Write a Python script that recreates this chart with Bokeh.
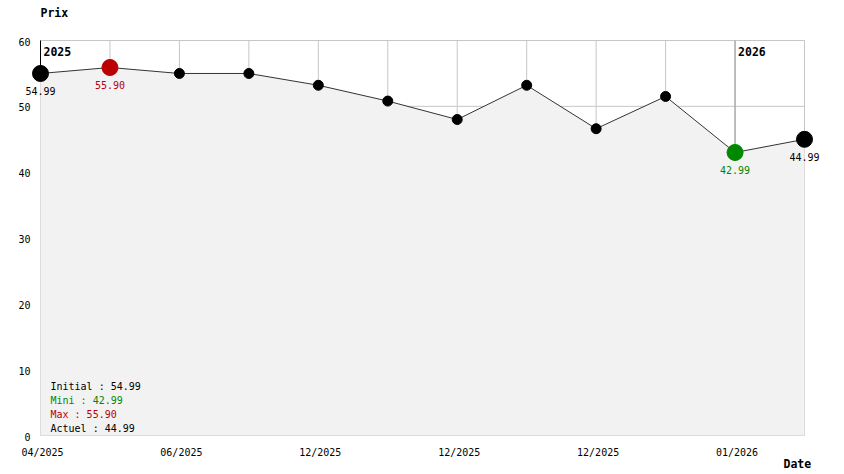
from bokeh.plotting import figure
from bokeh.models import Range1d, Label, LabelSet, ColumnDataSource
from bokeh.core.properties import value
from bokeh.embed import file_html
from bokeh.resources import INLINE

# ---- data ----
idx = list(range(12))
prices = [54.99, 55.90, 54.99, 54.99, 53.2, 50.8, 48.0, 53.2, 46.6, 51.5, 42.99, 44.99]
tick_idx = [0, 2, 4, 6, 8, 10]
tick_labels = ["04/2025", "06/2025", "12/2025", "12/2025", "12/2025", "01/2026"]
y_ticks = [0, 10, 20, 30, 40, 50, 60]
year_idx = [0, 10]
year_labels = ["2025", "2026"]
initial, mini, maxi, actuel = 54.99, 42.99, 55.90, 44.99
min_i, max_i = 10, 1

MONO = "DejaVu Sans Mono"
RED = "#bb0000"
GREEN = "#008800"
GRID = "#c6c6c6"

W, H = 844, 474
# plot area in canvas pixels
FL, FR, FT, FB = 40, 804, 40, 435
kx = (FR - FL) / (idx[-1] - idx[0])
ky = (FB - FT) / (y_ticks[-1] - y_ticks[0])

p = figure(width=W, height=H, output_backend="svg", toolbar_location=None,
           x_range=Range1d(idx[0] - FL / kx, idx[-1] + (W - FR) / kx),
           y_range=Range1d(y_ticks[0] - (H - FB) / ky, y_ticks[-1] + FT / ky),
           x_axis_location=None, y_axis_location=None,
           min_border=0)
p.outline_line_color = None
p.grid.visible = False
p.background_fill_color = "white"
p.border_fill_color = "white"

y0, y1 = y_ticks[0], y_ticks[-1]
x0, x1 = idx[0], idx[-1]

# grid
p.segment(x0=idx, y0=[y0] * len(idx), x1=idx, y1=[y1] * len(idx), line_color=GRID, line_width=1)
p.segment(x0=[x0] * len(y_ticks), y0=y_ticks, x1=[x1] * len(y_ticks), y1=y_ticks,
          line_color=GRID, line_width=1)

# area
src = ColumnDataSource(dict(x=idx, y=prices))
p.varea(x="x", y1=y0, y2="y", source=src, fill_color="#f2f2f2")

# year markers
p.segment(x0=[year_idx[0]], y0=[y1], x1=[year_idx[0]], y1=[prices[year_idx[0]]],
          line_color="black", line_width=1)
p.segment(x0=[year_idx[1]], y0=[y1], x1=[year_idx[1]], y1=[prices[year_idx[1]]],
          line_color="#999999", line_width=1)
for xi, yl in zip(year_idx, year_labels):
    p.add_layout(Label(x=xi, y=y1, text=yl, x_offset=3, y_offset=-11,
                       text_baseline="middle", text_font=MONO, text_font_size="11.5px",
                       text_font_style="bold", text_color="black"))

# line
p.line(x="x", y="y", source=src, line_color="#333333", line_width=1)

# markers
mid = [i for i in idx if i not in (0, 11, min_i, max_i)]
p.scatter(x=mid, y=[prices[i] for i in mid], size=10, fill_color="black", line_color="black")
p.scatter(x=[0, 11], y=[prices[0], prices[11]], size=16, fill_color="black", line_color="black")
p.scatter(x=[max_i], y=[prices[max_i]], size=16, fill_color=RED, line_color=RED)
p.scatter(x=[min_i], y=[prices[min_i]], size=16, fill_color=GREEN, line_color=GREEN)

# value labels
for xi, col in ((0, "black"), (max_i, RED), (min_i, GREEN), (11, "black")):
    p.add_layout(Label(x=xi, y=prices[xi], text=f"{prices[xi]:.2f}", y_offset=-18,
                       text_align="center", text_baseline="middle", text_font=MONO,
                       text_font_size="10px", text_color=col))

# y tick labels
ysrc = ColumnDataSource(dict(x=[x0] * len(y_ticks), y=y_ticks, t=[str(v) for v in y_ticks]))
p.add_layout(LabelSet(x="x", y="y", text="t", source=ysrc, x_offset=-10, y_offset=-1,
                      text_align="right", text_baseline="middle", text_font=value(MONO),
                      text_font_size=value("10px"), text_color="black"))

# x tick labels
xsrc = ColumnDataSource(dict(x=tick_idx, y=[y0] * len(tick_idx), t=tick_labels))
p.add_layout(LabelSet(x="x", y="y", text="t", source=xsrc, x_offset=2, y_offset=-17,
                      text_align="center", text_baseline="middle", text_font=value(MONO),
                      text_font_size=value("10px"), text_color="black"))

# axis titles
p.add_layout(Label(x=x0, y=y1, text="Prix", y_offset=28, text_baseline="middle",
                   text_font=MONO, text_font_size="11.5px", text_font_style="bold",
                   text_color="black"))
p.add_layout(Label(x=x1, y=y0, text="Date", x_offset=-21, y_offset=-28,
                   text_baseline="middle", text_font=MONO, text_font_size="11.5px",
                   text_font_style="bold", text_color="black"))

# legend texts
legend = [(f"Initial : {initial:.2f}", "black"), (f"Mini : {mini:.2f}", GREEN),
          (f"Max : {maxi:.2f}", RED), (f"Actuel : {actuel:.2f}", "black")]
for k, (t, col) in enumerate(legend):
    p.add_layout(Label(x=x0, y=y0, text=t, x_offset=10, y_offset=49 - 14 * k,
                       text_baseline="middle", text_font=MONO, text_font_size="10px",
                       text_color=col))

open("out.html", "w").write(file_html(p, INLINE))
